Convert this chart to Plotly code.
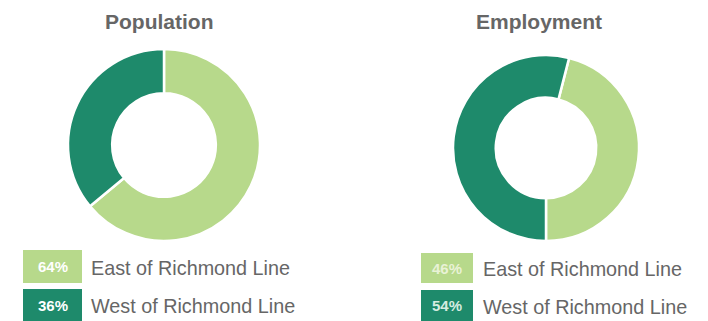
import plotly.graph_objects as go

# ---- data ----
categories = ["East of Richmond Line", "West of Richmond Line"]
population = [64, 36]
employment = [46, 54]
titles = ["Population", "Employment"]

# ---- style ----
W, H = 708, 321
colors = ["#b7d98b", "#1e8a6b"]
pct_font_colors = [["#ffffff", "#ffffff"], ["#e9f2d6", "#d6ece0"]]
grey = "#666666"

def px(x):
    return x / W

def py(y):
    return 1 - y / H

panels = [
    dict(values=population, title=titles[0], domx=(68, 260), domy=(48, 242),
         rotation=0, title_x=159,
         box_x=(23, 82), box_y=[(250, 283), (289, 321)], text_x=90),
    dict(values=employment, title=titles[1], domx=(453, 639), domy=(53, 243),
         rotation=180 - 360 * employment[0] / 100, title_x=539,
         box_x=(421, 473), box_y=[(253, 283), (290, 321)], text_x=482),
]

fig = go.Figure()
shapes = []
annotations = []
for i, p in enumerate(panels):
    fig.add_trace(go.Pie(
        labels=categories,
        values=p["values"],
        hole=0.54,
        sort=False,
        direction="clockwise",
        rotation=p["rotation"],
        marker=dict(colors=colors, line=dict(color="white", width=2.5)),
        textinfo="none",
        hoverinfo="label+percent",
        showlegend=False,
        domain=dict(x=[px(p["domx"][0]), px(p["domx"][1])],
                    y=[py(p["domy"][1]), py(p["domy"][0])]),
    ))
    annotations.append(dict(
        text="<b>%s</b>" % p["title"], x=px(p["title_x"]), y=py(21),
        xref="paper", yref="paper", xanchor="center", yanchor="middle",
        showarrow=False, font=dict(family="Liberation Sans, Arial", size=21, color=grey)))
    for k, cat in enumerate(categories):
        y0, y1 = p["box_y"][k]
        shapes.append(dict(type="rect", xref="paper", yref="paper",
                           x0=px(p["box_x"][0]), x1=px(p["box_x"][1]),
                           y0=py(y1), y1=py(y0),
                           fillcolor=colors[k], line=dict(width=0), layer="above"))
        annotations.append(dict(
            text="<b>%d%%</b>" % p["values"][k],
            x=px((p["box_x"][0] + p["box_x"][1]) / 2), y=py((y0 + y1) / 2),
            xref="paper", yref="paper", xanchor="center", yanchor="middle",
            showarrow=False,
            font=dict(family="Liberation Sans, Arial", size=15, color=pct_font_colors[i][k])))
        annotations.append(dict(
            text=cat, x=px(p["text_x"] - 1), y=py((y0 + y1) / 2 + 1),
            xref="paper", yref="paper", xanchor="left", yanchor="middle",
            showarrow=False,
            font=dict(family="Liberation Sans, Arial", size=19.8, color=grey)))

fig.update_layout(
    width=W, height=H,
    margin=dict(l=0, r=0, t=0, b=0),
    paper_bgcolor="white", plot_bgcolor="white",
    shapes=shapes, annotations=annotations,
)
fig.write_html("out.html")
